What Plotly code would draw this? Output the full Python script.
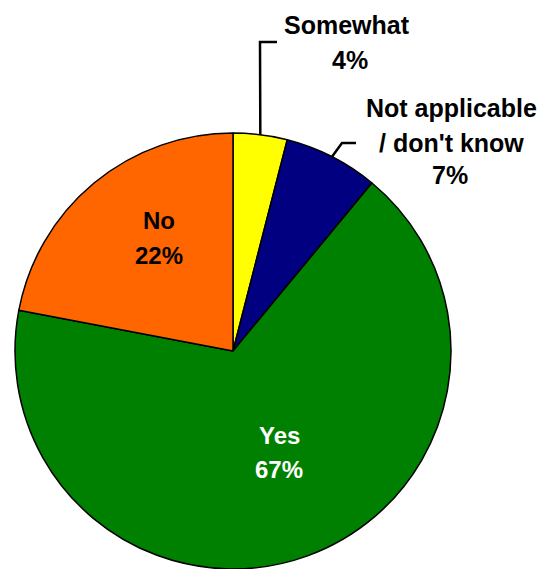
import math
import plotly.graph_objects as go

# ---- data ----
categories = ["Somewhat", "Not applicable<br>/ don't know", "Yes", "No"]
values = [4, 7, 67, 22]
colors = ["#FFFF00", "#000080", "#008000", "#FF6600"]
label_colors = ["black", "black", "white", "black"]

# ---- layout geometry (pixels) ----
W, H = 543, 569
CX, CY, R = 233, 351, 218
FONT = "Liberation Sans, Arial, sans-serif"
FS_IN = 24
FS_OUT = 25
# label line centers (pixels) per category
label_pos = {
    "Somewhat": [(347, 25), (350, 60)],
    "Not applicable<br>/ don't know": [(451, 108), (451, 143), (450, 175)],
    "Yes": [(279, 435), (279, 469)],
    "No": [(159, 220), (159, 255)],
}
leader_end = {
    "Somewhat": [(260, 42), (277, 42)],
    "Not applicable<br>/ don't know": [(342, 143), (356, 143)],
}


def px(x, y):
    return x / W, 1 - y / H


fig = go.Figure(go.Pie(
    labels=categories,
    values=values,
    sort=False,
    direction="clockwise",
    rotation=0,
    marker=dict(colors=colors, line=dict(color="black", width=1.5)),
    textinfo="none",
    hoverinfo="label+percent",
    domain=dict(x=[(CX - R) / W, (CX + R) / W], y=[max(0, (H - CY - R) / H), (H - CY + R) / H]),
    showlegend=False,
))

total = sum(values)
annotations = []
shapes = []
cum = 0
for cat, v, lc in zip(categories, values, label_colors):
    pct = round(100 * v / total)
    lines = cat.split("<br>") + [f"{pct}%"]
    fs = FS_OUT if cat in leader_end else FS_IN
    for (x, y), txt in zip(label_pos[cat], lines):
        ax, ay = px(x, y)
        annotations.append(dict(
            x=ax, y=ay, xref="paper", yref="paper", text=f"<b>{txt}</b>",
            showarrow=False, xanchor="center", yanchor="middle",
            font=dict(family=FONT, size=fs, color=lc),
        ))
    mid = (cum + v / 2) / total * 2 * math.pi
    cum += v
    if cat in leader_end:
        pts = [(CX + R * math.sin(mid), CY - R * math.cos(mid))] + leader_end[cat]
        path = "M " + " L ".join(f"{px(x, y)[0]},{px(x, y)[1]}" for x, y in pts)
        shapes.append(dict(type="path", xref="paper", yref="paper", path=path,
                           line=dict(color="black", width=2.5)))

fig.update_layout(
    width=W, height=H,
    margin=dict(l=0, r=0, t=0, b=0),
    paper_bgcolor="white", plot_bgcolor="white",
    annotations=annotations, shapes=shapes,
)
fig.write_html("out.html")
